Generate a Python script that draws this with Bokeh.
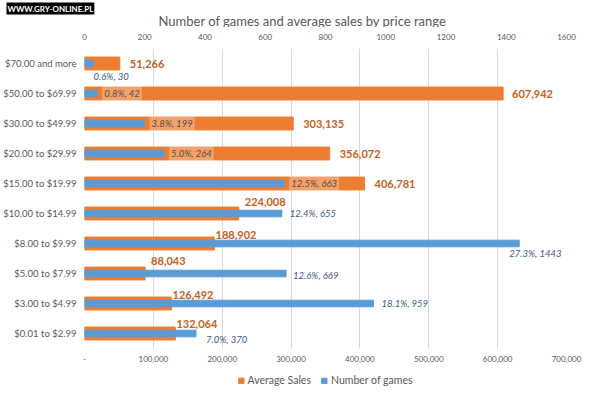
from bokeh.plotting import figure
from bokeh.layouts import column
from bokeh.models import (Range1d, LinearAxis, FactorRange, ColumnDataSource, Legend,
                          LegendItem, FixedTicker, Label, Title)
from bokeh.core.properties import value
from bokeh.embed import file_html
from bokeh.resources import INLINE

# ---- data (top to bottom as in the chart) ----
categories = ["$70.00 and more", "$50.00 to $69.99", "$30.00 to $49.99", "$20.00 to $29.99",
              "$15.00 to $19.99", "$10.00 to $14.99", "$8.00 to $9.99", "$5.00 to $7.99",
              "$3.00 to $4.99", "$0.01 to $2.99"]
avg_sales = [51266, 607942, 303135, 356072, 406781, 224008, 188902, 88043, 126492, 132064]
num_games = [30, 42, 199, 264, 663, 655, 1443, 669, 959, 370]
share_pct = [0.6, 0.8, 3.8, 5.0, 12.5, 12.4, 27.3, 12.6, 18.1, 7.0]

sales_ticks = [0, 100000, 200000, 300000, 400000, 500000, 600000, 700000]
sales_tick_labels = ["-", "100,000", "200,000", "300,000", "400,000", "500,000", "600,000", "700,000"]
games_ticks = [0, 200, 400, 600, 800, 1000, 1200, 1400, 1600]
games_tick_labels = ["0", "200", "400", "600", "800", "1000", "1200", "1400", "1600"]

title_text = "Number of games and average sales by price range"
watermark_text = "WWW.GRY-ONLINE.PL"

# ---- label placement (pixels) ----
sales_lbl_dx = [9, 8, 9, 9, 9, 5, 0, 5, 0, 0]
sales_lbl_dy = [0, 0, 0, 0, 0, -12, -9, -13, -9, -10]
sales_lbl_bg = [0, 0, 0, 0, 0, 0, 0.35, 0, 0.35, 0.35]
games_lbl_dx = [-2, 5, 5, 5, 5, 6, -12, 5, 6, 8]
games_lbl_dy = [13, 0, 0, 0, 0, 0, 10, 2, 0, 6]
games_lbl_bg = [0, 0.28, 0.28, 0.28, 0.28, 0, 0, 0, 0, 0]
games_lbl_col = ["#3d5a80", "#5b4a40", "#5b4a40", "#5b4a40", "#5b4a40",
                 "#3d5a80", "#3d5a80", "#3d5a80", "#3d5a80", "#3d5a80"]

ORANGE = "#ed7d31"
BLUE = "#5b9bd5"
GREY = "#595959"
FONT = "Lato"
W = 584

src = ColumnDataSource(dict(
    cat=categories, sales=avg_sales, games=num_games,
    sales_txt=[f"{v:,}" for v in avg_sales],
    games_txt=[f"{p:.1f}%, {g}" for p, g in zip(share_pct, num_games)],
    sdx=sales_lbl_dx, sdy=sales_lbl_dy, sbg=sales_lbl_bg,
    gdx=games_lbl_dx, gdy=games_lbl_dy, gbg=games_lbl_bg, gcol=games_lbl_col,
))

# ---- title strip ----
tt = figure(width=W, height=27, output_backend="svg", toolbar_location=None,
            x_range=Range1d(0, 1), y_range=Range1d(0, 1), min_border=0,
            x_axis_location=None, y_axis_location=None, outline_line_color=None)
tt.grid.grid_line_color = None
tt.title = None
tt.add_layout(Title(text=watermark_text, align="left", offset=-78, standoff=0,
                    text_font=FONT, text_font_size="8px", text_font_style="bold",
                    text_color="white", background_fill_color="black", padding=1), "above")
tt.add_layout(Label(x=74, y=7, x_units="screen", y_units="screen", text=title_text,
                    text_font=FONT, text_font_size="13px", text_color=GREY,
                    text_align="left", text_baseline="middle"))

# ---- main chart ----
p = figure(width=W, height=339, output_backend="svg", toolbar_location=None,
           y_range=FactorRange(*reversed(categories), range_padding=0),
           x_range=Range1d(0, 700000),
           min_border_left=78, min_border_right=18, min_border_top=21, min_border_bottom=18,
           outline_line_color=None)
p.extra_x_ranges = {"games": Range1d(0, 1600)}

# bars
sales_r = p.hbar(y="cat", right="sales", left=0, height=0.43, color=ORANGE, source=src)
games_r = p.hbar(y="cat", right="games", left=0, height=0.22, color=BLUE, source=src,
                 x_range_name="games")

# labels
p.text(x="sales", y="cat", text="sales_txt", source=src, x_offset="sdx", y_offset="sdy",
       text_font=value(FONT), text_font_size="11px", text_font_style="bold",
       text_color="#c5601c", text_align="left", text_baseline="middle",
       background_fill_color="white", background_fill_alpha="sbg", padding=1)
p.text(x="games", y="cat", text="games_txt", source=src, x_offset="gdx", y_offset="gdy",
       x_range_name="games",
       text_font=value(FONT), text_font_size="9.5px", text_font_style="italic",
       text_color="gcol", text_align="left", text_baseline="middle",
       background_fill_color="white", background_fill_alpha="gbg", padding=2)

# axes
bx = p.xaxis[0]
bx.ticker = FixedTicker(ticks=sales_ticks)
bx.major_label_overrides = dict(zip(sales_ticks, sales_tick_labels))
top = LinearAxis(x_range_name="games", ticker=FixedTicker(ticks=games_ticks))
top.major_label_overrides = dict(zip(games_ticks, games_tick_labels))
p.add_layout(top, "above")

for ax in (bx, top):
    ax.axis_line_color = None
    ax.major_tick_line_color = None
    ax.minor_tick_line_color = None
    ax.major_tick_out = 0
    ax.major_tick_in = 0
    ax.minor_tick_out = 0
    ax.major_label_text_font = FONT
    ax.major_label_text_font_size = "8px"
    ax.major_label_text_color = GREY
bx.major_label_standoff = 7
top.major_label_standoff = 9

ya = p.yaxis[0]
ya.axis_line_color = None
ya.major_tick_line_color = None
ya.minor_tick_line_color = None
ya.major_tick_out = 0
ya.major_tick_in = 0
ya.major_label_text_font = FONT
ya.major_label_text_font_size = "9.5px"
ya.major_label_text_color = GREY
ya.major_label_standoff = 8

p.ygrid.grid_line_color = None
p.xgrid.grid_line_color = "#d9d9d9"
p.xgrid.ticker = FixedTicker(ticks=sales_ticks)

# ---- legend strip ----
lg = figure(width=W, height=28, output_backend="svg", toolbar_location=None,
            x_range=Range1d(0, 1), y_range=Range1d(0, 1), min_border=0,
            x_axis_location=None, y_axis_location=None, outline_line_color=None)
lg.grid.grid_line_color = None
ls = lg.hbar(y=[-5], right=[1], left=0, height=0.5, color=ORANGE)
lb = lg.hbar(y=[-5], right=[1], left=0, height=0.5, color=BLUE)
legend = Legend(items=[LegendItem(label="Average Sales", renderers=[ls]),
                       LegendItem(label="Number of games", renderers=[lb])],
                orientation="horizontal", location="center",
                glyph_width=7, glyph_height=7, label_text_font=FONT,
                label_text_font_size="10.5px", label_text_color=GREY,
                label_standoff=3, spacing=10, padding=0, margin=0,
                label_height=12, border_line_color=None, background_fill_alpha=0)
lg.add_layout(legend)

open("out.html", "w").write(file_html(column(tt, p, lg, spacing=0), INLINE))
